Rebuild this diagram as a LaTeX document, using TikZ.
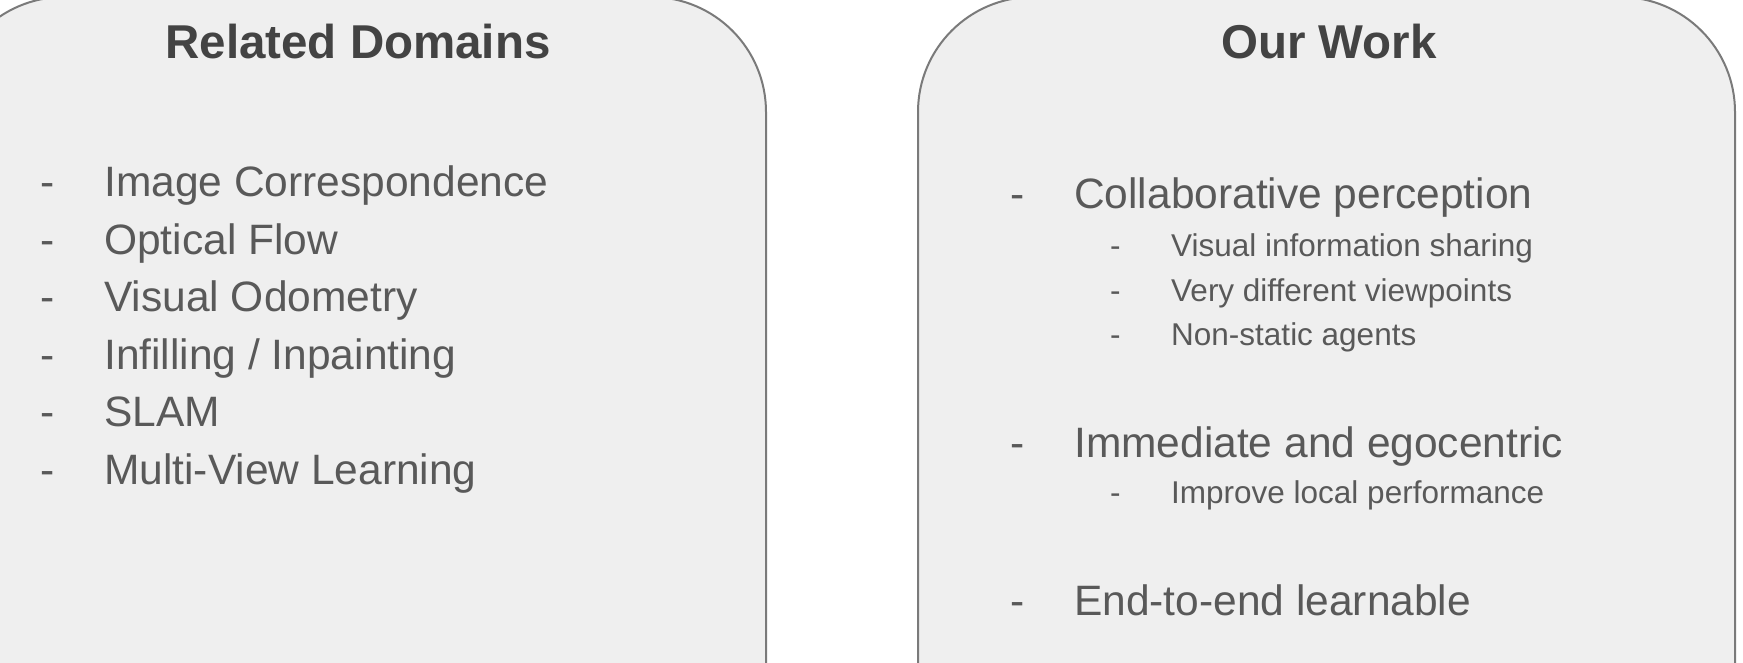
\documentclass[tikz,border=0pt]{standalone}
\usepackage{fontspec}
\setmainfont{Liberation Sans}
\usepackage{xcolor}
\usetikzlibrary{positioning}
\definecolor{panelfill}{HTML}{EFEFEF}
\definecolor{paneledge}{HTML}{7A7A7A}
\definecolor{headgray}{HTML}{434343}
\definecolor{itemgray}{HTML}{595959}
\tikzset{
  panel/.style={fill=panelfill, draw=paneledge, line width=2pt, rounded corners=115pt},
  headtext/.style={inner sep=0pt, anchor=base, text=headgray, font=\fontsize{47.5}{57}\selectfont\bfseries},
  itemtext/.style={inner sep=0pt, anchor=base west, text=itemgray, font=\fontsize{42.5}{51}\selectfont},
  subtext/.style={inner sep=0pt, anchor=base west, text=itemgray, font=\fontsize{31.5}{38}\selectfont},
}
\begin{document}
\begin{tikzpicture}[x=1pt,y=1pt]
  \useasboundingbox (0,0) rectangle (1743,-663);
  \clip (0,0) rectangle (1743,-663);
  % the two panels, cut off at the bottom
  \draw[panel] (-51,3) rectangle (766,-900);
  \draw[panel] (918,3) rectangle (1735,-900);
  \node[headtext] (rdhead) at (358,-59) {Related Domains};
  \node[headtext] (owhead) at (1329,-59) {Our Work};
  % related domains
  \foreach \t [count=\i] in {Image Correspondence, Optical Flow, Visual Odometry,
      {Infilling / Inpainting}, SLAM, Multi-View Learning} {
    \node[itemtext] (rddash\i) at (40,-139.6-57.4*\i) {-};
    \node[itemtext] (rd\i) at (104,-139.6-57.4*\i) {\t};
  }
  % our work
  \foreach \y/\t [count=\i] in {209/Collaborative perception, 457/Immediate and egocentric,
      615/End-to-end learnable} {
    \node[itemtext] (owdash\i) at (1010,-\y) {-};
    \node[itemtext] (ow\i) at (1074,-\y) {\t};
  }
  \foreach \y/\t [count=\i] in {256/Visual information sharing, 301/Very different viewpoints,
      345/Non-static agents, 503/Improve local performance} {
    \node[subtext] (subdash\i) at (1110,-\y) {-};
    \node[subtext] (sub\i) at (1171,-\y) {\t};
  }
\end{tikzpicture}
\end{document}
